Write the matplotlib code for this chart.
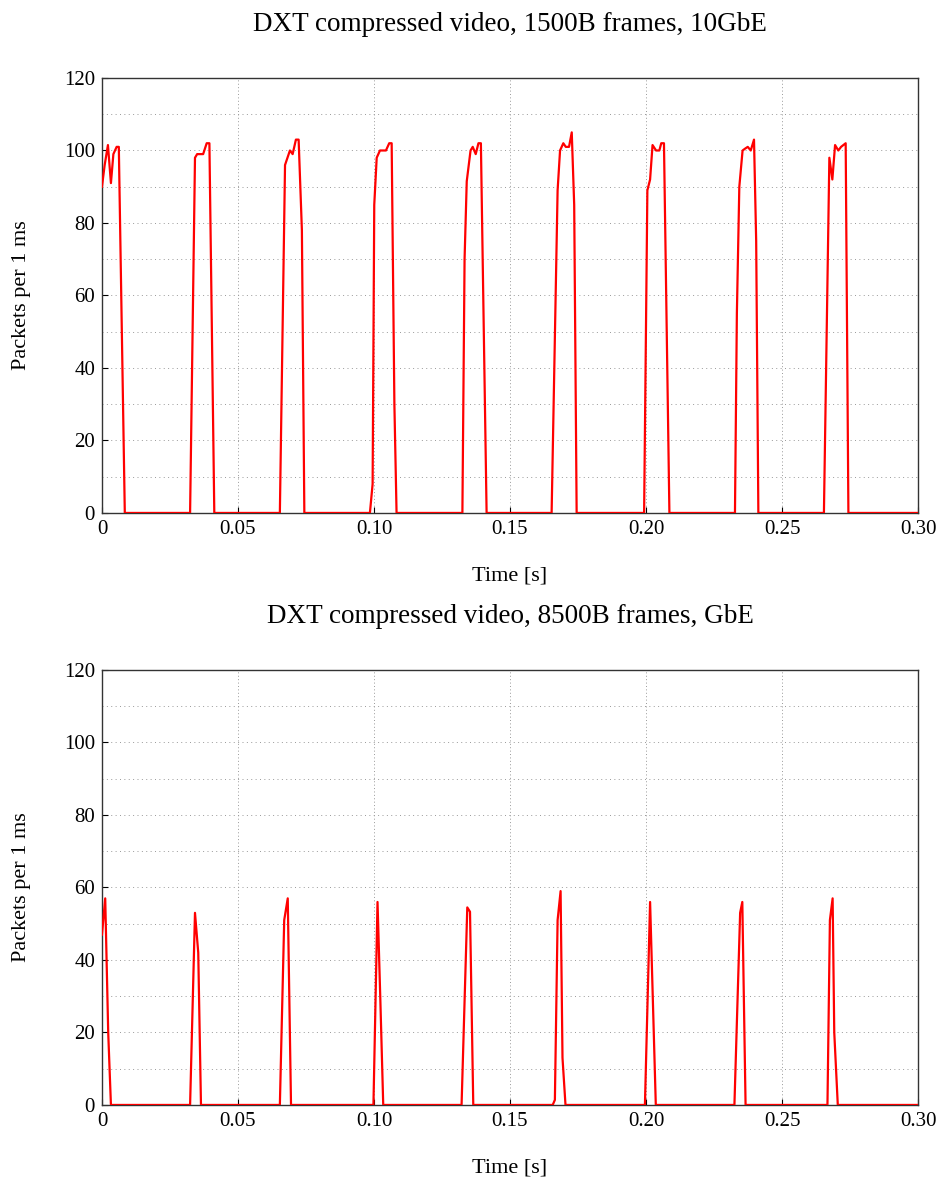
import matplotlib
matplotlib.use("Agg")
import matplotlib.pyplot as plt
import numpy as np

plt.rcParams['font.family'] = ['Liberation Serif', 'DejaVu Serif']

# top panel: 1500B frames, 10GbE  (time in ms, packets per 1 ms)
t_top = [0, 1.0, 2.2, 3.3, 4.2, 5.4, 6.2, 8.4,
         32.4, 34.2, 35.0, 37.2, 38.5, 39.5, 41.3,
         65.4, 67.3, 69.1, 70.1, 71.3, 72.3, 73.5, 74.4,
         98.5, 99.5, 100.1, 101.0, 102.2, 104.4, 105.6, 106.5, 107.5, 108.3,
         132.5, 133.3, 134.1, 135.5, 136.3, 137.4, 138.4, 139.3, 141.4,
         165.3, 167.5, 168.4, 169.6, 170.5, 171.7, 172.7, 173.6, 174.5,
         199.3, 200.5, 201.5, 202.4, 203.7, 204.9, 205.6, 206.6, 208.6,
         232.7, 233.4, 234.3, 235.5, 236.4, 237.4, 238.5, 239.7, 240.5, 241.3,
         265.4, 267.4, 268.5, 269.5, 270.7, 271.7, 273.4, 274.4,
         300]
v_top = [90, 96, 101.5, 91, 99, 101, 101, 0,
         0, 98, 99, 99, 102, 102, 0,
         0, 96, 100, 99, 103, 103, 78, 0,
         0, 8, 85, 98, 100, 100, 102, 102, 30, 0,
         0, 70, 91.5, 100, 101, 99, 102, 102, 0,
         0, 89, 100, 102, 101, 101, 105, 85, 0,
         0, 89, 92, 101.5, 100, 100, 102, 102, 0,
         0, 55, 90, 100, 100.5, 101, 100, 103, 75, 0,
         0, 98, 92, 101.5, 100, 101, 102, 0,
         0]

# bottom panel: 8500B frames, GbE
t_bot = [0, 1.2, 2.3, 3.3,
         32.4, 34.2, 35.4, 36.4,
         65.4, 67.0, 68.3, 69.5,
         99.8, 101.3, 102.3, 103.4,
         132.2, 134.3, 135.3, 136.5,
         165.7, 166.5, 167.5, 168.6, 169.3, 170.4,
         199.6, 201.5, 203.6,
         232.5, 234.6, 235.4, 236.6,
         266.7, 267.6, 268.6, 269.2, 270.5,
         300]
v_bot = [47, 57, 20, 0,
         0, 53, 42, 0,
         0, 51, 57, 0,
         0, 56, 30, 0,
         0, 54.5, 53.3, 0,
         0, 1.4, 51, 59, 13, 0,
         0, 56, 0,
         0, 53, 56, 0,
         0, 51, 57, 20, 0,
         0]

titles = ["DXT compressed video, 1500B frames, 10GbE",
          "DXT compressed video, 8500B frames, GbE"]

fig = plt.figure(figsize=(9.44, 11.8), dpi=100)
ax1 = fig.add_axes([0.108, 0.5653, 0.8645, 0.3686])
ax2 = fig.add_axes([0.108, 0.0636, 0.8645, 0.3686])

for ax, t, v, title in [(ax1, t_top, v_top, titles[0]), (ax2, t_bot, v_bot, titles[1])]:
    ax.plot(np.array(t) / 1000.0, v, color='#ff0000', lw=1.6, zorder=3)
    ax.set_xlim(0, 0.30)
    ax.set_ylim(0, 120)
    ax.set_xticks([0, 0.05, 0.10, 0.15, 0.20, 0.25, 0.30])
    ax.set_xticklabels(['0', '0.05', '0.10', '0.15', '0.20', '0.25', '0.30'])
    ax.set_yticks(np.arange(0, 121, 20))
    ax.set_yticks(np.arange(10, 120, 20), minor=True)
    ax.grid(True, which='major', axis='x', color='#999999', linestyle=(0, (1, 2.5)), lw=0.7)
    ax.grid(True, which='both', axis='y', color='#999999', linestyle=(0, (1, 3.5)), lw=0.7)
    ax.tick_params(direction='in', length=4, labelsize=15, pad=5)
    ax.tick_params(which='minor', length=0)
    for s in ax.spines.values():
        s.set_color('#333333')
        s.set_linewidth(1.0)
    ax.set_xlabel('Time [s]', fontsize=16, labelpad=20)
    ax.set_ylabel('Packets per 1 ms', fontsize=16, labelpad=24)
    ax.set_title(title, fontsize=19.5, pad=34)

fig.savefig('out.png', dpi=100)
